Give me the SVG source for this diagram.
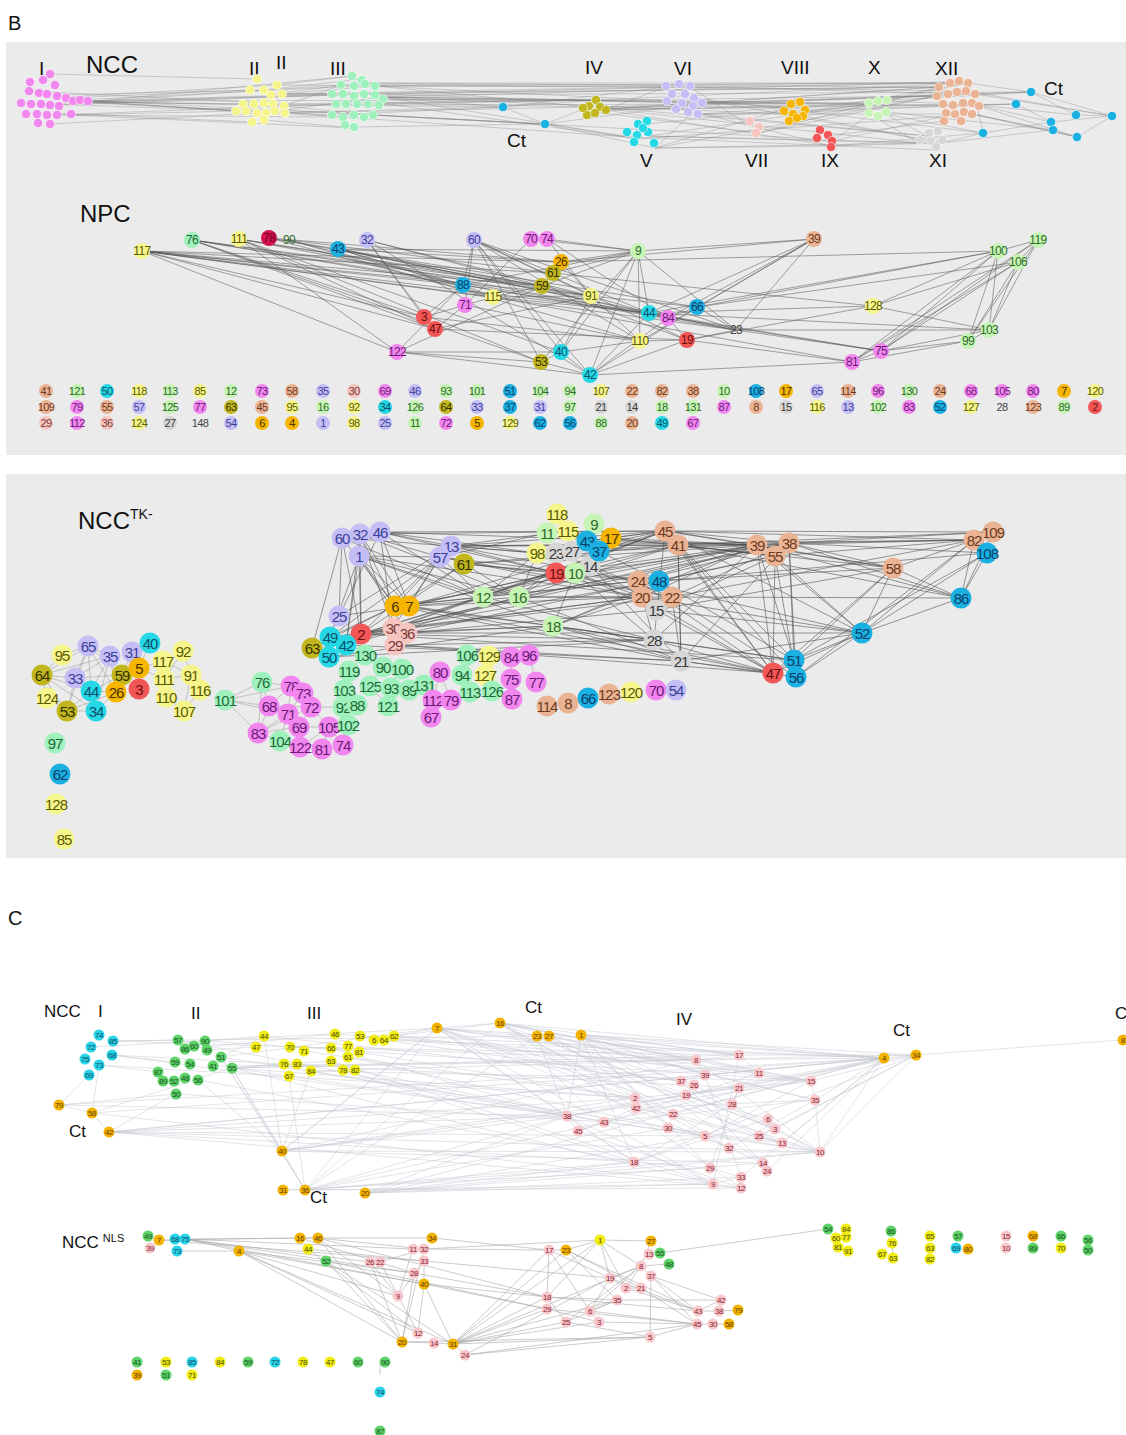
<svg xmlns="http://www.w3.org/2000/svg" width="1126" height="1435" viewBox="0 0 1126 1435">
<style>
text{font-family:"Liberation Sans",Arial,sans-serif}
.lb{fill:#111;text-anchor:start}
.n text{text-anchor:middle;dominant-baseline:central;letter-spacing:-0.6px}
.bg{fill:#ebebeb}
.e1{stroke:#7a7a7a;stroke-width:.6;fill:none;opacity:.55}
.e2{stroke:#555;stroke-width:.7;fill:none;opacity:.75}
.e3{stroke:#4a4a4a;stroke-width:.8;fill:none;opacity:.7}
.e3l{stroke:#777;stroke-width:.6;fill:none;opacity:.6}
.e4{stroke:#c3c7d0;stroke-width:.6;fill:none;opacity:.8}
.e5{stroke:#aaa;stroke-width:.6;fill:none}
.dot circle{r:4.6px;stroke:#fff;stroke-opacity:.55;stroke-width:1}
.s1 circle{r:8px}.s1 text{font-size:12px}
.s2 circle{r:7px}.s2 text{font-size:11px}
.s3 circle{r:10.5px}.s3 text{font-size:15px;letter-spacing:-1px}
.s4 circle{r:5.5px}.s4 text{font-size:8px;letter-spacing:-.5px}
.pk circle{fill:#f286ef}.pk text{fill:#6b1a78}
.lv circle{fill:#c4bef5}.lv text{fill:#3b3f9a}
.yl circle{fill:#f6f58c}.yl text{fill:#5a5a00}
.gd circle{fill:#f5b500}.gd text{fill:#4a3200}
.ol circle{fill:#c2b61e}.ol text{fill:#333300}
.cy circle{fill:#24d8e6}.cy text{fill:#0b4f6b}
.bl circle{fill:#1ab0e2}.bl text{fill:#0b3f6b}
.rd circle{fill:#f25656}.rd text{fill:#6a0f0f}
.tn circle{fill:#e9b394}.tn text{fill:#6e3b22}
.ls circle{fill:#f6c5c0}.ls text{fill:#7a3a3a}
.gn circle{fill:#9ef1bd}.gn text{fill:#1e6a36}
.lg circle{fill:#c6f4b4}.lg text{fill:#2f6a2a}
.gy circle{fill:#d6d6d6}.gy text{fill:#3a3a3a}
.cr circle{fill:#d4124e}.cr text{fill:#6a0020}
.no circle{fill:none}.no text{fill:#444}
.cpk circle{fill:#f7c9cc}.cpk text{fill:#8b2030}
.cgd circle{fill:#f2b400}.cgd text{fill:#6a3c00}
.cyl circle{fill:#f0ec14}.cyl text{fill:#4a4a00}
.cgn circle{fill:#5fd36a}.cgn text{fill:#15501a}
.ccy circle{fill:#2ad4e8}.ccy text{fill:#0a4a6a}
</style>

<rect class="bg" x="6" y="42" width="1120" height="413"/>
<rect class="bg" x="6" y="474" width="1120" height="384"/>

<text class="lb" x="8" y="30" font-size="20">B</text>
<text class="lb" x="8" y="925" font-size="20">C</text>

<g id="connectors">
<path class="e1" d="M50 74L257 79M57 95L264 90M73 102L243 104M86 102L246 111M77 101L284 106M66 97L277 85M55 113L252 122M71 115L236 111M86 102L341 85M73 102L332 115M57 105L364 94M86 102L352 76M77 101L343 117M86 102L375 94M71 115L354 128M284 94L332 94M284 106L341 85M277 85L352 76M282 94L375 86M275 111L343 117M284 110L382 97M264 120L354 128M271 94L364 83M264 90L361 79M284 106L373 115M382 97L596 100M375 86L666 87M379 103L589 107M382 97L503 107M373 115L545 124M364 83L679 85M375 94L690 87M382 97L629 137M379 103L638 139M375 86L791 107M382 97L869 104M364 94L939 87M375 86L950 83M379 103L937 96M382 97L784 114M373 115L818 139M382 97L703 103M277 85L666 87M284 106L596 100M284 94L939 87M86 102L503 107M284 110L545 124M382 97L959 82M364 83L968 83M607 109L666 87M607 109L703 103M607 109L791 107M605 110L869 104M607 109L939 87M600 107L937 96M596 100L968 83M607 109L919 143M600 107L928 136M605 110L832 146M594 112L759 133M607 109L975 94M655 148L703 103M655 148L791 107M648 136L869 104M655 148L937 96M648 136L941 143M655 148L832 146M648 136L757 139M655 148L919 143M647 124L966 91M703 103L869 104M703 114L791 107M699 114L884 114M703 103L939 87M694 87L968 83M703 103L937 96M699 114L928 136M703 103L977 105M694 98L941 143M703 114L832 146M690 87L750 126M699 114L805 112M759 133L869 104M759 133L937 96M757 139L919 143M805 112L869 104M804 116L937 96M805 112L968 83M804 116L941 143M805 112L977 105M832 141L869 115M832 146L941 143M832 141L955 114M828 136L944 121M833 146L983 133M887 101L939 87M887 101L977 105M885 114L946 114M887 101L968 83M885 114L941 143M885 114L983 133M878 119L919 143M977 105L1016 104M975 94L1031 92M977 105L1051 122M972 114L1052 130M977 105L1076 115M972 114L1077 137M968 83L1031 92M941 143L1052 130M941 143L983 133M977 105L983 133M1016 104L1051 122M1031 92L1076 115M1031 92L1112 116M1051 122L1112 116M1052 130L1077 137M1077 137L1112 116M1076 115L1112 116M983 133L1051 122M975 94L1112 116M964 112L1077 137M503 107L545 124M545 124L589 107M545 124L629 137M503 107L596 100M503 107L666 87M545 124L703 103M545 124L655 148M666 87L966 91M679 85L959 82M690 87L975 94M600 107L977 105M629 137L935 150M638 139L972 114M29 91L264 103M41 104L343 94M21 103L246 111M50 124L257 113M88 101L236 111M66 98L250 90M88 101L332 94M80 100L354 86M57 115L336 104M47 115L343 117M88 101L596 100M80 100L545 124M273 104L596 100M285 113L589 107M282 94L666 87M266 113L503 107M383 99L666 101M379 105L791 104M365 84L939 87M375 95L1031 92M343 117L629 137M354 127L545 124M332 115L503 107M375 86L589 107M364 94L682 103M383 99L869 103M606 110L1016 104M702 103L1031 92M694 98L983 133M805 110L1016 104M878 101L1031 92M886 112L1053 130M966 91L1112 116M979 106L1077 137"/>

<path class="e2" d="M142 251L424 317M142 251L435 329M142 251L397 352M142 251L463 285M142 251L493 297M142 251L542 286M142 251L591 296M142 251L561 262M142 251L649 313M142 251L553 273M192 240L424 317M192 240L435 329M192 240L463 285M192 240L542 286M192 240L541 362M192 240L591 296M192 240L649 313M239 239L397 352M239 239L435 329M239 239L542 286M239 239L561 352M239 239L541 362M239 239L591 296M239 239L668 318M269 238L493 297M269 238L542 286M269 238L561 262M269 238L697 307M289 240L463 285M289 240L553 273M289 240L640 341M338 249L463 285M338 249L493 297M338 249L542 286M338 249L561 262M338 249L638 251M338 249L649 313M338 249L736 330M367 240L424 317M367 240L435 329M367 240L542 286M367 240L591 296M367 240L590 375M474 240L463 285M474 240L465 305M474 240L541 362M474 240L561 352M474 240L590 375M474 240L649 313M474 240L640 341M474 240L687 340M474 240L591 296M474 240L736 330M531 239L465 305M531 239L638 251M547 239L591 296M547 239L638 251M547 239L668 318M638 251L542 286M638 251L553 273M638 251L561 262M638 251L640 341M638 251L561 352M638 251L590 375M638 251L649 313M638 251L736 330M638 251L814 239M638 251L541 362M638 251L463 285M814 239L649 313M814 239L697 307M814 239L736 330M814 239L640 341M814 239L561 262M814 239L668 318M998 251L873 306M998 251L649 313M998 251L697 307M998 251L881 351M998 251L852 362M998 251L989 330M998 251L968 341M998 251L561 262M1038 240L998 251M1038 240L1018 262M1038 240L881 351M1038 240L989 330M1038 240L968 341M1038 240L852 362M1018 262L881 351M1018 262L852 362M1018 262L989 330M1018 262L968 341M1018 262L873 306M1018 262L697 307M873 306L649 313M873 306L687 340M873 306L989 330M989 330L968 341M989 330L881 351M989 330L736 330M989 330L649 313M968 341L881 351M968 341L852 362M881 351L852 362M852 362L687 340M852 362L590 375M881 351L736 330M881 351L649 313M852 362L493 297M397 352L561 352M397 352L541 362M397 352L590 375M397 352L463 285M397 352L542 286M424 317L493 297M424 317L463 285M435 329L465 305M435 329L591 296M541 362L561 352M541 362L590 375M561 352L590 375M590 375L649 313M590 375L697 307M590 375L668 318M590 375L687 340M561 352L640 341M463 285L493 297M493 297L542 286M493 297L591 296M493 297L649 313M542 286L591 296M542 286L553 273M553 273L561 262M561 262L591 296M640 341L687 340M687 340L668 318M649 313L668 318M668 318L697 307M697 307L736 330M649 313L736 330M687 340L736 330M591 296L649 313M591 296L640 341M591 296L697 307M591 296L561 352M463 285L736 330M465 305L640 341M542 286L687 340M553 273L873 306M142 251L736 330M435 329L687 340M424 317L640 341M463 285L881 351"/>

<path class="e3" d="M342 538L312 648M342 538L339 616M342 538L395 606M342 538L361 634M342 538L483 597M360 534L395 606M360 534L409 606M360 534L361 634M360 534L346 645M360 534L440 557M360 534L519 597M360 534L393 628M380 532L409 606M380 532L451 546M380 532L556 573M380 532L483 597M380 532L393 628M380 532L339 616M380 532L537 553M380 532L665 531M359 556L330 637M359 556L346 645M359 556L395 606M359 556L409 606M359 556L407 633M359 556L483 597M359 556L519 597M359 556L553 626M359 556L440 557M359 556L642 597M359 556L361 634M451 546L395 606M451 546L339 616M451 546L361 634M451 546L556 573M451 546L537 553M451 546L665 531M451 546L678 545M451 546L638 581M451 546L757 545M440 557L409 606M440 557L330 637M440 557L393 628M440 557L575 573M440 557L483 597M440 557L642 597M440 557L672 597M464 564L395 606M464 564L361 634M464 564L519 597M464 564L556 573M464 564L659 581M464 564L789 543M395 606L483 597M409 606L519 597M395 606L553 626M409 606L556 573M409 606L642 597M395 606L638 581M409 606L665 531M409 606L678 545M395 606L757 545M409 606L654 640M395 606L681 661M409 606L773 673M361 634L483 597M361 634L553 626M361 634L642 597M361 634L672 597M361 634L654 640M361 634L757 545M361 634L789 543M361 634L794 660M361 634L556 573M393 628L519 597M407 633L553 626M393 628L659 581M407 633L656 610M395 645L654 640M395 645L681 661M407 633L775 556M393 628L665 531M395 645L773 673M407 633L862 633M346 645L483 597M330 637L395 606M339 616L409 606M346 645L519 597M329 657L553 626M312 648L395 606M330 637L642 597M346 645L681 661M329 657L654 640M483 597L556 573M483 597L638 581M483 597L665 531M483 597L757 545M483 597L654 640M483 597L575 573M519 597L556 573M519 597L642 597M519 597L678 545M519 597L789 543M519 597L681 661M519 597L672 597M519 597L537 553M553 626L642 597M553 626L659 581M553 626L757 545M553 626L654 640M553 626L681 661M553 626L773 673M553 626L794 660M553 626L575 573M556 573L638 581M556 573L665 531M556 573L757 545M556 573L672 597M575 573L642 597M575 573L678 545M575 573L789 543M575 573L656 610M556 553L665 531M572 551L678 545M587 541L665 531M599 551L659 581M611 538L665 531M590 566L642 597M537 553L451 546M547 533L440 557M568 531L451 546M557 514L547 533M594 524L587 541M557 514L568 531M587 541L757 545M599 551L789 543M611 538L775 556M556 553L672 597M590 566L681 661M575 573L654 640M537 553L483 597M572 551L519 597M665 531L757 545M665 531L789 543M665 531L974 540M665 531L893 568M665 531L773 673M665 531L794 660M665 531L862 633M678 545L775 556M678 545L757 545M678 545L993 532M678 545L796 677M678 545L773 673M678 545L681 661M678 545L961 598M678 545L893 568M638 581L757 545M638 581L789 543M638 581L773 673M638 581L862 633M659 581L775 556M659 581L794 660M659 581L893 568M659 581L987 553M642 597L757 545M642 597L773 673M642 597L862 633M672 597L789 543M672 597L796 677M672 597L961 598M672 597L974 540M656 610L775 556M656 610L773 673M656 610L862 633M656 610L893 568M654 640L757 545M654 640L773 673M654 640L794 660M681 661L789 543M681 661L773 673M681 661L796 677M681 661L862 633M654 640L665 531M681 661L678 545M654 640L642 597M681 661L672 597M757 545L974 540M757 545L893 568M757 545L773 673M757 545L794 660M757 545L862 633M757 545L961 598M789 543L993 532M789 543L893 568M789 543L794 660M789 543L961 598M789 543L796 677M789 543L987 553M775 556L773 673M775 556L796 677M775 556L862 633M775 556L974 540M893 568L974 540M893 568L961 598M893 568L862 633M893 568L794 660M893 568L773 673M974 540L961 598M993 532L961 598M987 553L961 598M974 540L862 633M987 553L862 633M987 553L794 660M974 540L796 677M961 598L862 633M862 633L794 660M862 633L796 677M862 633L773 673M794 660L773 673M380 532L757 545M451 546L974 540M665 531L993 532M789 543L974 540M611 538L757 545M360 534L665 531M342 538L451 546M464 564L678 545"/>

<path class="e3l" d="M42 675L62 655M42 675L88 646M42 675L75 678M42 675L91 691M42 675L67 711M42 675L96 711M42 675L110 656M42 675L47 698M62 655L88 646M88 646L110 656M88 646L75 678M88 646L91 691M88 646L122 675M88 646L116 692M88 646L67 711M110 656L75 678M110 656L91 691M110 656L122 675M110 656L116 692M110 656L96 711M75 678L91 691M75 678L67 711M75 678L122 675M91 691L122 675M91 691L67 711M91 691L96 711M91 691L116 692M122 675L139 668M122 675L116 692M116 692L96 711M132 652L139 668M132 652L122 675M150 643L139 668M139 668L139 689M67 711L96 711M47 698L67 711M67 711L116 692M75 678L96 711M163 661L191 675M183 651L191 675M164 679L191 675M164 679L166 697M191 675L200 690M166 697L184 711M191 675L184 711M200 690L184 711M163 661L166 697M183 651L164 679M139 668L163 661M139 668L164 679M225 700L262 682M225 700L269 706M225 700L258 733M225 700L291 686M225 700L288 714M262 682L291 686M262 682L269 706M262 682L258 733M291 686L303 693M291 686L269 706M291 686L288 714M303 693L311 707M303 693L288 714M269 706L288 714M269 706L258 733M269 706L311 707M311 707L343 707M311 707L329 727M311 707L299 727M288 714L299 727M288 714L258 733M299 727L329 727M329 727L348 725M329 727L322 749M329 727L343 745M258 733L280 741M258 733L299 727M280 741L300 747M300 747L299 727M300 747L329 727M280 741L288 714M311 707L258 733M349 670L364 655M370 686L388 706M391 688L409 690M409 690L424 685M424 685L440 672M400 669L391 688M382 667L370 686M344 690L357 705M349 670L344 690M440 672L433 700M440 672L451 700M467 655L462 675M467 655L470 692M511 657L511 679M529 655L536 682M511 679L512 699M364 655L382 667M312 648L329 657M312 648L346 645"/>

<path class="e4" d="M437 1028L567 1116M437 1028L635 1098M437 1028L696 1060M437 1028L739 1055M437 1028L811 1081M437 1028L713 1184M437 1028L634 1162M437 1028L282 1151M437 1028L500 1023M437 1028L884 1058M437 1028L820 1152M500 1023L696 1060M500 1023L739 1055M500 1023L759 1073M500 1023L811 1081M500 1023L884 1058M500 1023L815 1100M500 1023L705 1136M500 1023L775 1129M500 1023L741 1188M500 1023L604 1122M537 1036L681 1081M549 1036L729 1148M581 1035L884 1058M581 1035L916 1055M581 1035L739 1055M581 1035L820 1152M581 1035L763 1163M581 1035L710 1168M581 1035L634 1162M537 1036L567 1116M549 1036L782 1143M581 1035L811 1081M884 1058L696 1060M884 1058L705 1075M884 1058L739 1088M884 1058L815 1100M884 1058L820 1152M884 1058L782 1143M884 1058L767 1171M884 1058L741 1177M884 1058L673 1114M916 1055L811 1081M916 1055L820 1152M916 1055L775 1129M916 1055L1122 1040M916 1055L759 1136M916 1055L739 1055M282 1151L635 1098M282 1151L567 1116M282 1151L696 1060M282 1151L437 1028M282 1151L264 1036M282 1151L221 1057M305 1190L567 1116M305 1190L634 1162M305 1190L713 1184M305 1190L741 1188M305 1190L604 1122M305 1190L668 1128M305 1190L282 1151M305 1190L232 1068M305 1190L537 1036M365 1193L634 1162M365 1193L713 1184M365 1193L741 1177M365 1193L763 1163M365 1193L820 1152M365 1193L705 1136M283 1190L305 1190M305 1190L500 1023M305 1190L437 1028M109 1132L567 1116M109 1132L635 1098M109 1132L705 1136M59 1105L92 1113M92 1113L109 1132M59 1105L89 1075M92 1113L99 1065M92 1113L232 1068M59 1105L175 1094M109 1132L175 1094M113 1041L178 1040M112 1055L175 1062M113 1041L537 1036M112 1055L567 1116M99 1065L158 1072M232 1068L567 1116M232 1068L635 1098M221 1057L437 1028M213 1066L696 1060M232 1068L739 1055M207 1050L256 1047M221 1057L264 1036M232 1068L284 1064M311 1071L567 1116M311 1071L696 1060M394 1036L437 1028M394 1036L500 1023M359 1052L635 1098M355 1070L604 1122M384 1040L681 1081M331 1061L713 1184M343 1070L634 1162M232 1068L282 1151M198 1080L282 1151M221 1057L305 1190M311 1071L282 1151M289 1076L305 1190M185 1049L335 1034M205 1041L264 1036M232 1068L331 1061M696 1060L739 1055M696 1060L705 1075M705 1075L681 1081M681 1081L694 1085M694 1085L686 1095M739 1055L759 1073M759 1073L739 1088M739 1088L732 1104M811 1081L815 1100M815 1100L820 1152M635 1098L636 1108M636 1108L673 1114M673 1114L668 1128M567 1116L578 1131M578 1131L604 1122M604 1122L636 1108M768 1119L775 1129M775 1129L759 1136M759 1136L782 1143M705 1136L729 1148M729 1148L763 1163M763 1163L767 1171M710 1168L741 1177M741 1177L713 1184M713 1184L741 1188M634 1162L710 1168M567 1116L634 1162M567 1116L713 1184M578 1131L741 1188M604 1122L705 1136M635 1098L811 1081M636 1108L815 1100M673 1114L820 1152M668 1128L782 1143M696 1060L820 1152M739 1055L713 1184M681 1081L763 1163M686 1095L775 1129M732 1104L634 1162M759 1073L578 1131M811 1081L567 1116M815 1100L604 1122M820 1152L567 1116M739 1088L710 1168M705 1075L741 1177M694 1085L820 1152M768 1119L634 1162M782 1143L636 1108M705 1136L811 1081M729 1148L815 1100M109 1132L820 1152M109 1132L741 1188M92 1113L884 1058M232 1068L916 1055M311 1071L811 1081M394 1036L884 1058M109 1132L634 1162M365 1193L567 1116M282 1151L739 1088M437 1028L768 1119M500 1023L636 1108M581 1035L567 1116M581 1035L668 1128M113 1041L696 1060M112 1055L739 1088M99 1065L635 1098M91 1047L437 1028M178 1040L567 1116M205 1041L811 1081M198 1080L634 1162M232 1068L713 1184M221 1057L820 1152M176 1094L604 1122M264 1036L681 1081M290 1047L739 1055M335 1034L696 1060M360 1036L759 1073M394 1036L811 1081M384 1040L884 1058M348 1057L705 1136M331 1048L567 1116M304 1051L635 1098M59 1105L567 1116M92 1113L713 1184M109 1132L884 1058M282 1151L820 1152M283 1190L710 1168M365 1193L884 1058M305 1190L820 1152M282 1151L763 1163M437 1028L729 1148M500 1023L673 1114M581 1035L705 1075M549 1036L815 1100M537 1036L759 1136M916 1055L634 1162M884 1058L604 1122M916 1055L567 1116M884 1058L567 1116M59 1105L884 1058M109 1132L916 1055"/>

<path class="e5" d="M159 1240L300 1238M185 1239L318 1238M185 1239L239 1251M185 1239L370 1262M185 1239L413 1249M185 1239L414 1273M177 1251L239 1251M159 1240L424 1261M185 1239L424 1284M148 1236L159 1240M150 1248L159 1240M239 1251L402 1342M239 1251L453 1344M239 1251L418 1333M239 1251L398 1296M239 1251L414 1273M239 1251L424 1284M300 1238L432 1238M318 1238L398 1296M318 1238L402 1342M308 1249L418 1333M326 1261L402 1342M326 1261L453 1344M318 1238L424 1249M308 1249L424 1261M300 1238L414 1273M318 1238L547 1297M326 1261L547 1309M370 1262L402 1342M380 1262L418 1333M380 1262L424 1249M370 1262L398 1296M413 1249L398 1296M424 1249L402 1342M424 1261L398 1296M414 1273L402 1342M424 1284L418 1333M424 1284L453 1344M424 1261L424 1284M432 1238L549 1250M424 1249L549 1250M424 1284L547 1297M424 1284L547 1309M414 1273L547 1297M424 1261L610 1278M424 1249L600 1240M453 1344L549 1250M453 1344L566 1250M453 1344L600 1240M453 1344L547 1297M453 1344L547 1309M453 1344L566 1322M453 1344L599 1322M453 1344L650 1337M453 1344L617 1300M453 1344L641 1266M402 1342L434 1343M434 1343L453 1344M453 1344L465 1355M465 1355L650 1337M465 1355L697 1324M402 1342L650 1337M465 1355L610 1278M549 1250L566 1250M566 1250L600 1240M600 1240L651 1241M600 1240L610 1278M600 1240L641 1266M600 1240L547 1297M600 1240L626 1288M549 1250L547 1297M549 1250L610 1278M549 1250L590 1311M566 1250L617 1300M566 1250L641 1288M651 1241L641 1266M649 1254L660 1253M641 1266L669 1264M641 1266L610 1278M641 1266L626 1288M641 1266L651 1276M641 1266L590 1311M641 1266L566 1322M651 1276L650 1337M651 1276L698 1311M651 1276L721 1300M651 1276L697 1324M610 1278L626 1288M610 1278L590 1311M626 1288L641 1288M617 1300L590 1311M617 1300L566 1322M590 1311L599 1322M547 1297L566 1322M547 1309L599 1322M547 1297L617 1300M626 1288L698 1311M641 1288L697 1324M617 1300L721 1300M599 1322L697 1324M566 1322L650 1337M650 1337L697 1324M698 1311L721 1300M698 1311L719 1311M697 1324L713 1324M713 1324L729 1324M719 1311L738 1310M547 1297L698 1311M547 1309L697 1324M660 1253L828 1229M610 1278L698 1311M590 1311L697 1324M566 1250L698 1311M892 1243L893 1258M380 1362L380 1375"/>
</g>

<g id="ncc-labels" font-size="19">
<text class="lb" x="86" y="73" font-size="24">NCC</text>
<text class="lb" x="39" y="75">I</text>
<text class="lb" x="249" y="75">II</text>
<text class="lb" x="276" y="69">II</text>
<text class="lb" x="330" y="75">III</text>
<text class="lb" x="585" y="74">IV</text>
<text class="lb" x="674" y="75">VI</text>
<text class="lb" x="781" y="74">VIII</text>
<text class="lb" x="868" y="74">X</text>
<text class="lb" x="935" y="75">XII</text>
<text class="lb" x="1044" y="95">Ct</text>
<text class="lb" x="507" y="147">Ct</text>
<text class="lb" x="640" y="167">V</text>
<text class="lb" x="745" y="167">VII</text>
<text class="lb" x="821" y="167">IX</text>
<text class="lb" x="929" y="167">XI</text>
</g>

<g id="ncc-I" class="dot pk">
<circle cx="50" cy="74"/><circle cx="43" cy="80"/><circle cx="55" cy="85"/><circle cx="29" cy="91"/><circle cx="39" cy="93"/><circle cx="47" cy="94"/><circle cx="57" cy="96"/><circle cx="66" cy="98"/><circle cx="21" cy="103"/><circle cx="31" cy="104"/><circle cx="41" cy="104"/><circle cx="50" cy="105"/><circle cx="59" cy="106"/><circle cx="73" cy="101"/><circle cx="80" cy="100"/><circle cx="88" cy="101"/><circle cx="26" cy="114"/><circle cx="37" cy="114"/><circle cx="47" cy="115"/><circle cx="57" cy="115"/><circle cx="71" cy="114"/><circle cx="38" cy="123"/><circle cx="50" cy="124"/><circle cx="30" cy="82"/>
</g>
<g id="ncc-II" class="dot yl">
<circle cx="257" cy="79"/><circle cx="277" cy="85"/><circle cx="250" cy="90"/><circle cx="264" cy="90"/><circle cx="271" cy="95"/><circle cx="282" cy="94"/><circle cx="243" cy="104"/><circle cx="254" cy="104"/><circle cx="264" cy="103"/><circle cx="273" cy="104"/><circle cx="284" cy="106"/><circle cx="236" cy="111"/><circle cx="246" cy="111"/><circle cx="257" cy="113"/><circle cx="266" cy="113"/><circle cx="275" cy="111"/><circle cx="285" cy="113"/><circle cx="252" cy="122"/><circle cx="264" cy="120"/>
</g>
<g id="ncc-III" class="dot gn">
<circle cx="352" cy="76"/><circle cx="362" cy="80"/><circle cx="341" cy="85"/><circle cx="354" cy="86"/><circle cx="365" cy="84"/><circle cx="375" cy="86"/><circle cx="332" cy="94"/><circle cx="343" cy="94"/><circle cx="354" cy="96"/><circle cx="364" cy="94"/><circle cx="375" cy="95"/><circle cx="383" cy="99"/><circle cx="336" cy="104"/><circle cx="346" cy="104"/><circle cx="357" cy="104"/><circle cx="368" cy="104"/><circle cx="379" cy="105"/><circle cx="332" cy="115"/><circle cx="343" cy="117"/><circle cx="354" cy="115"/><circle cx="364" cy="117"/><circle cx="373" cy="115"/><circle cx="354" cy="127"/><circle cx="345" cy="125"/>
</g>
<g id="ncc-IV" class="dot ol">
<circle cx="596" cy="100"/><circle cx="589" cy="106"/><circle cx="600" cy="107"/><circle cx="606" cy="110"/><circle cx="587" cy="115"/><circle cx="595" cy="113"/><circle cx="583" cy="108"/>
</g>
<g id="ncc-V" class="dot cy">
<circle cx="638" cy="124"/><circle cx="647" cy="121"/><circle cx="627" cy="132"/><circle cx="637" cy="135"/><circle cx="648" cy="132"/><circle cx="634" cy="142"/><circle cx="654" cy="143"/><circle cx="643" cy="128"/>
</g>
<g id="ncc-VI" class="dot lv">
<circle cx="666" cy="86"/><circle cx="679" cy="84"/><circle cx="690" cy="86"/><circle cx="672" cy="94"/><circle cx="685" cy="94"/><circle cx="694" cy="98"/><circle cx="667" cy="101"/><circle cx="682" cy="103"/><circle cx="693" cy="106"/><circle cx="702" cy="103"/><circle cx="688" cy="112"/><circle cx="698" cy="114"/><circle cx="676" cy="109"/>
</g>
<g id="ncc-VII" class="dot ls">
<circle cx="750" cy="121"/><circle cx="759" cy="127"/><circle cx="756" cy="133"/>
</g>
<g id="ncc-VIII" class="dot gd">
<circle cx="791" cy="104"/><circle cx="800" cy="102"/><circle cx="805" cy="110"/><circle cx="784" cy="111"/><circle cx="793" cy="114"/><circle cx="803" cy="116"/><circle cx="789" cy="121"/><circle cx="797" cy="118"/>
</g>
<g id="ncc-IX" class="dot rd">
<circle cx="820" cy="130"/><circle cx="828" cy="135"/><circle cx="817" cy="138"/><circle cx="832" cy="141"/><circle cx="831" cy="147"/>
</g>
<g id="ncc-X" class="dot lg">
<circle cx="869" cy="103"/><circle cx="878" cy="101"/><circle cx="887" cy="100"/><circle cx="869" cy="113"/><circle cx="878" cy="116"/><circle cx="886" cy="112"/>
</g>
<g id="ncc-XI" class="dot gy">
<circle cx="929" cy="133"/><circle cx="938" cy="131"/><circle cx="920" cy="140"/><circle cx="931" cy="141"/><circle cx="942" cy="140"/><circle cx="936" cy="147"/>
</g>
<g id="ncc-XII" class="dot tn">
<circle cx="939" cy="87"/><circle cx="950" cy="83"/><circle cx="959" cy="81"/><circle cx="968" cy="83"/><circle cx="937" cy="96"/><circle cx="948" cy="94"/><circle cx="957" cy="92"/><circle cx="966" cy="91"/><circle cx="975" cy="94"/><circle cx="943" cy="104"/><circle cx="953" cy="105"/><circle cx="963" cy="103"/><circle cx="972" cy="103"/><circle cx="979" cy="106"/><circle cx="946" cy="113"/><circle cx="955" cy="114"/><circle cx="964" cy="112"/><circle cx="972" cy="114"/><circle cx="944" cy="121"/><circle cx="961" cy="121"/>
</g>
<g id="ncc-Ct" class="dot bl">
<circle cx="503" cy="107"/><circle cx="545" cy="124"/><circle cx="983" cy="133"/><circle cx="1016" cy="104"/><circle cx="1031" cy="92"/><circle cx="1051" cy="122"/><circle cx="1053" cy="130"/><circle cx="1076" cy="115"/><circle cx="1077" cy="137"/><circle cx="1112" cy="116"/>
</g>

<text class="lb" x="80" y="222" font-size="24">NPC</text>
<g id="npc-nodes">
<g id="npc-117" class="n s1 yl" transform="translate(142,251)"><circle/><text>117</text></g>
<g id="npc-76" class="n s1 gn" transform="translate(192,240)"><circle/><text>76</text></g>
<g id="npc-111" class="n s1 yl" transform="translate(239,239)"><circle/><text>111</text></g>
<g id="npc-78" class="n s1 cr" transform="translate(269,238)"><circle/><text>78</text></g>
<g id="npc-90" class="n s1 no" transform="translate(289,240)"><circle/><text style="fill:#2f6a2a">90</text></g>
<g id="npc-43" class="n s1 bl" transform="translate(338,249)"><circle/><text>43</text></g>
<g id="npc-32" class="n s1 lv" transform="translate(367,240)"><circle/><text>32</text></g>
<g id="npc-60" class="n s1 lv" transform="translate(474,240)"><circle/><text>60</text></g>
<g id="npc-70" class="n s1 pk" transform="translate(531,239)"><circle/><text>70</text></g>
<g id="npc-74" class="n s1 pk" transform="translate(547,239)"><circle/><text>74</text></g>
<g id="npc-26" class="n s1 gd" transform="translate(561,262)"><circle/><text>26</text></g>
<g id="npc-61" class="n s1 ol" transform="translate(553,273)"><circle/><text>61</text></g>
<g id="npc-59" class="n s1 ol" transform="translate(542,286)"><circle/><text>59</text></g>
<g id="npc-9" class="n s1 lg" transform="translate(638,251)"><circle/><text>9</text></g>
<g id="npc-39" class="n s1 tn" transform="translate(814,239)"><circle/><text>39</text></g>
<g id="npc-100" class="n s1 lg" transform="translate(998,251)"><circle/><text>100</text></g>
<g id="npc-119" class="n s1 lg" transform="translate(1038,240)"><circle/><text>119</text></g>
<g id="npc-106" class="n s1 lg" transform="translate(1018,262)"><circle/><text>106</text></g>
<g id="npc-88" class="n s1 bl" transform="translate(463,285)"><circle/><text>88</text></g>
<g id="npc-115" class="n s1 yl" transform="translate(493,297)"><circle/><text>115</text></g>
<g id="npc-71" class="n s1 pk" transform="translate(465,305)"><circle/><text>71</text></g>
<g id="npc-91" class="n s1 yl" transform="translate(591,296)"><circle/><text>91</text></g>
<g id="npc-3" class="n s1 rd" transform="translate(424,317)"><circle/><text>3</text></g>
<g id="npc-47" class="n s1 rd" transform="translate(435,329)"><circle/><text>47</text></g>
<g id="npc-44" class="n s1 cy" transform="translate(649,313)"><circle/><text>44</text></g>
<g id="npc-84" class="n s1 pk" transform="translate(668,318)"><circle/><text>84</text></g>
<g id="npc-66" class="n s1 bl" transform="translate(697,307)"><circle/><text>66</text></g>
<g id="npc-23" class="n s1 no" transform="translate(736,330)"><circle/><text>23</text></g>
<g id="npc-128" class="n s1 yl" transform="translate(873,306)"><circle/><text>128</text></g>
<g id="npc-103" class="n s1 lg" transform="translate(989,330)"><circle/><text>103</text></g>
<g id="npc-99" class="n s1 lg" transform="translate(968,341)"><circle/><text>99</text></g>
<g id="npc-110" class="n s1 yl" transform="translate(640,341)"><circle/><text>110</text></g>
<g id="npc-19" class="n s1 rd" transform="translate(687,340)"><circle/><text>19</text></g>
<g id="npc-122" class="n s1 pk" transform="translate(397,352)"><circle/><text>122</text></g>
<g id="npc-53" class="n s1 ol" transform="translate(541,362)"><circle/><text>53</text></g>
<g id="npc-40" class="n s1 cy" transform="translate(561,352)"><circle/><text>40</text></g>
<g id="npc-42" class="n s1 cy" transform="translate(590,375)"><circle/><text>42</text></g>
<g id="npc-75" class="n s1 pk" transform="translate(881,351)"><circle/><text>75</text></g>
<g id="npc-81" class="n s1 pk" transform="translate(852,362)"><circle/><text>81</text></g>
</g>

<g id="npc-isolated">
<g class="n s2 tn" transform="translate(46,391)"><circle/><text>41</text></g>
<g class="n s2 lg" transform="translate(77,391)"><circle/><text>121</text></g>
<g class="n s2 cy" transform="translate(107,391)"><circle/><text>50</text></g>
<g class="n s2 yl" transform="translate(139,391)"><circle/><text>118</text></g>
<g class="n s2 lg" transform="translate(170,391)"><circle/><text>113</text></g>
<g class="n s2 yl" transform="translate(200,391)"><circle/><text>85</text></g>
<g class="n s2 lg" transform="translate(231,391)"><circle/><text>12</text></g>
<g class="n s2 pk" transform="translate(262,391)"><circle/><text>73</text></g>
<g class="n s2 tn" transform="translate(292,391)"><circle/><text>58</text></g>
<g class="n s2 lv" transform="translate(323,391)"><circle/><text>35</text></g>
<g class="n s2 ls" transform="translate(354,391)"><circle/><text>30</text></g>
<g class="n s2 pk" transform="translate(385,391)"><circle/><text>69</text></g>
<g class="n s2 lv" transform="translate(415,391)"><circle/><text>46</text></g>
<g class="n s2 lg" transform="translate(446,391)"><circle/><text>93</text></g>
<g class="n s2 lg" transform="translate(477,391)"><circle/><text>101</text></g>
<g class="n s2 bl" transform="translate(510,391)"><circle/><text>51</text></g>
<g class="n s2 lg" transform="translate(540,391)"><circle/><text>104</text></g>
<g class="n s2 lg" transform="translate(570,391)"><circle/><text>94</text></g>
<g class="n s2 yl" transform="translate(601,391)"><circle/><text>107</text></g>
<g class="n s2 tn" transform="translate(632,391)"><circle/><text>22</text></g>
<g class="n s2 tn" transform="translate(662,391)"><circle/><text>82</text></g>
<g class="n s2 tn" transform="translate(693,391)"><circle/><text>38</text></g>
<g class="n s2 lg" transform="translate(724,391)"><circle/><text>10</text></g>
<g class="n s2 bl" transform="translate(756,391)"><circle/><text>108</text></g>
<g class="n s2 gd" transform="translate(786,391)"><circle/><text>17</text></g>
<g class="n s2 lv" transform="translate(817,391)"><circle/><text>65</text></g>
<g class="n s2 tn" transform="translate(848,391)"><circle/><text>114</text></g>
<g class="n s2 pk" transform="translate(878,391)"><circle/><text>96</text></g>
<g class="n s2 lg" transform="translate(909,391)"><circle/><text>130</text></g>
<g class="n s2 tn" transform="translate(940,391)"><circle/><text>24</text></g>
<g class="n s2 pk" transform="translate(971,391)"><circle/><text>68</text></g>
<g class="n s2 pk" transform="translate(1002,391)"><circle/><text>105</text></g>
<g class="n s2 pk" transform="translate(1033,391)"><circle/><text>80</text></g>
<g class="n s2 gd" transform="translate(1064,391)"><circle/><text>7</text></g>
<g class="n s2 yl" transform="translate(1095,391)"><circle/><text>120</text></g>

<g class="n s2 tn" transform="translate(46,407)"><circle/><text>109</text></g>
<g class="n s2 pk" transform="translate(77,407)"><circle/><text>79</text></g>
<g class="n s2 tn" transform="translate(107,407)"><circle/><text>55</text></g>
<g class="n s2 lv" transform="translate(139,407)"><circle/><text>57</text></g>
<g class="n s2 lg" transform="translate(170,407)"><circle/><text>125</text></g>
<g class="n s2 pk" transform="translate(200,407)"><circle/><text>77</text></g>
<g class="n s2 ol" transform="translate(231,407)"><circle/><text>63</text></g>
<g class="n s2 tn" transform="translate(262,407)"><circle/><text>45</text></g>
<g class="n s2 yl" transform="translate(292,407)"><circle/><text>95</text></g>
<g class="n s2 lg" transform="translate(323,407)"><circle/><text>16</text></g>
<g class="n s2 yl" transform="translate(354,407)"><circle/><text>92</text></g>
<g class="n s2 cy" transform="translate(385,407)"><circle/><text>34</text></g>
<g class="n s2 lg" transform="translate(415,407)"><circle/><text>126</text></g>
<g class="n s2 ol" transform="translate(446,407)"><circle/><text>64</text></g>
<g class="n s2 lv" transform="translate(477,407)"><circle/><text>33</text></g>
<g class="n s2 bl" transform="translate(510,407)"><circle/><text>37</text></g>
<g class="n s2 lv" transform="translate(540,407)"><circle/><text>31</text></g>
<g class="n s2 lg" transform="translate(570,407)"><circle/><text>97</text></g>
<g class="n s2 gy" transform="translate(601,407)"><circle/><text>21</text></g>
<g class="n s2 gy" transform="translate(632,407)"><circle/><text>14</text></g>
<g class="n s2 lg" transform="translate(662,407)"><circle/><text>18</text></g>
<g class="n s2 lg" transform="translate(693,407)"><circle/><text>131</text></g>
<g class="n s2 pk" transform="translate(724,407)"><circle/><text>87</text></g>
<g class="n s2 tn" transform="translate(756,407)"><circle/><text>8</text></g>
<g class="n s2 gy" transform="translate(786,407)"><circle/><text>15</text></g>
<g class="n s2 yl" transform="translate(817,407)"><circle/><text>116</text></g>
<g class="n s2 lv" transform="translate(848,407)"><circle/><text>13</text></g>
<g class="n s2 lg" transform="translate(878,407)"><circle/><text>102</text></g>
<g class="n s2 pk" transform="translate(909,407)"><circle/><text>83</text></g>
<g class="n s2 bl" transform="translate(940,407)"><circle/><text>52</text></g>
<g class="n s2 yl" transform="translate(971,407)"><circle/><text>127</text></g>
<g class="n s2 no" transform="translate(1002,407)"><circle/><text>28</text></g>
<g class="n s2 tn" transform="translate(1033,407)"><circle/><text>123</text></g>
<g class="n s2 lg" transform="translate(1064,407)"><circle/><text>89</text></g>
<g class="n s2 rd" transform="translate(1095,407)"><circle/><text>2</text></g>

<g class="n s2 ls" transform="translate(46,423)"><circle/><text>29</text></g>
<g class="n s2 pk" transform="translate(77,423)"><circle/><text>112</text></g>
<g class="n s2 ls" transform="translate(107,423)"><circle/><text>36</text></g>
<g class="n s2 yl" transform="translate(139,423)"><circle/><text>124</text></g>
<g class="n s2 gy" transform="translate(170,423)"><circle/><text>27</text></g>
<g class="n s2 no" transform="translate(200,423)"><circle/><text>148</text></g>
<g class="n s2 lv" transform="translate(231,423)"><circle/><text>54</text></g>
<g class="n s2 gd" transform="translate(262,423)"><circle/><text>6</text></g>
<g class="n s2 gd" transform="translate(292,423)"><circle/><text>4</text></g>
<g class="n s2 lv" transform="translate(323,423)"><circle/><text>1</text></g>
<g class="n s2 yl" transform="translate(354,423)"><circle/><text>98</text></g>
<g class="n s2 lv" transform="translate(385,423)"><circle/><text>25</text></g>
<g class="n s2 lg" transform="translate(415,423)"><circle/><text>11</text></g>
<g class="n s2 pk" transform="translate(446,423)"><circle/><text>72</text></g>
<g class="n s2 gd" transform="translate(477,423)"><circle/><text>5</text></g>
<g class="n s2 yl" transform="translate(510,423)"><circle/><text>129</text></g>
<g class="n s2 bl" transform="translate(540,423)"><circle/><text>62</text></g>
<g class="n s2 bl" transform="translate(570,423)"><circle/><text>56</text></g>
<g class="n s2 lg" transform="translate(601,423)"><circle/><text>88</text></g>
<g class="n s2 tn" transform="translate(632,423)"><circle/><text>20</text></g>
<g class="n s2 cy" transform="translate(662,423)"><circle/><text>49</text></g>
<g class="n s2 pk" transform="translate(693,423)"><circle/><text>67</text></g>
</g>

<text class="lb" x="78" y="529" font-size="24">NCC<tspan font-size="14" dy="-10">TK-</tspan></text>
<g id="tk-nodes">
<g id="tk-60" class="n s3 lv" transform="translate(342,538)"><circle/><text>60</text></g>
<g id="tk-32" class="n s3 lv" transform="translate(360,534)"><circle/><text>32</text></g>
<g id="tk-46" class="n s3 lv" transform="translate(380,532)"><circle/><text>46</text></g>
<g id="tk-1" class="n s3 lv" transform="translate(359,556)"><circle/><text>1</text></g>
<g id="tk-13" class="n s3 lv" transform="translate(451,546)"><circle/><text>13</text></g>
<g id="tk-57" class="n s3 lv" transform="translate(440,557)"><circle/><text>57</text></g>
<g id="tk-61" class="n s3 ol" transform="translate(464,564)"><circle/><text>61</text></g>
<g id="tk-118" class="n s3 yl" transform="translate(557,514)"><circle/><text>118</text></g>
<g id="tk-11" class="n s3 lg" transform="translate(547,533)"><circle/><text>11</text></g>
<g id="tk-115" class="n s3 yl" transform="translate(568,531)"><circle/><text>115</text></g>
<g id="tk-9" class="n s3 lg" transform="translate(594,524)"><circle/><text>9</text></g>
<g id="tk-17" class="n s3 gd" transform="translate(611,538)"><circle/><text>17</text></g>
<g id="tk-98" class="n s3 yl" transform="translate(537,553)"><circle/><text>98</text></g>
<g id="tk-23" class="n s3 gy" transform="translate(556,553)"><circle/><text>23</text></g>
<g id="tk-27" class="n s3 gy" transform="translate(572,551)"><circle/><text>27</text></g>
<g id="tk-14" class="n s3 gy" transform="translate(590,566)"><circle/><text>14</text></g>
<g id="tk-43" class="n s3 bl" transform="translate(587,541)"><circle/><text>43</text></g>
<g id="tk-37" class="n s3 bl" transform="translate(599,551)"><circle/><text>37</text></g>
<g id="tk-19" class="n s3 rd" transform="translate(556,573)"><circle/><text>19</text></g>
<g id="tk-10" class="n s3 lg" transform="translate(575,573)"><circle/><text>10</text></g>
<g id="tk-45" class="n s3 tn" transform="translate(665,531)"><circle/><text>45</text></g>
<g id="tk-41" class="n s3 tn" transform="translate(678,545)"><circle/><text>41</text></g>
<g id="tk-39" class="n s3 tn" transform="translate(757,545)"><circle/><text>39</text></g>
<g id="tk-38" class="n s3 tn" transform="translate(789,543)"><circle/><text>38</text></g>
<g id="tk-55" class="n s3 tn" transform="translate(775,556)"><circle/><text>55</text></g>
<g id="tk-109" class="n s3 tn" transform="translate(993,532)"><circle/><text>109</text></g>
<g id="tk-82" class="n s3 tn" transform="translate(974,540)"><circle/><text>82</text></g>
<g id="tk-108" class="n s3 bl" transform="translate(987,553)"><circle/><text>108</text></g>
<g id="tk-58" class="n s3 tn" transform="translate(893,568)"><circle/><text>58</text></g>
<g id="tk-86" class="n s3 bl" transform="translate(961,598)"><circle/><text>86</text></g>
<g id="tk-24" class="n s3 tn" transform="translate(638,581)"><circle/><text>24</text></g>
<g id="tk-48" class="n s3 bl" transform="translate(659,581)"><circle/><text>48</text></g>
<g id="tk-20" class="n s3 tn" transform="translate(642,597)"><circle/><text>20</text></g>
<g id="tk-22" class="n s3 tn" transform="translate(672,597)"><circle/><text>22</text></g>
<g id="tk-15" class="n s3 gy" transform="translate(656,610)"><circle/><text>15</text></g>
<g id="tk-12" class="n s3 lg" transform="translate(483,597)"><circle/><text>12</text></g>
<g id="tk-16" class="n s3 lg" transform="translate(519,597)"><circle/><text>16</text></g>
<g id="tk-18" class="n s3 lg" transform="translate(553,626)"><circle/><text>18</text></g>
<g id="tk-28" class="n s3 gy" transform="translate(654,640)"><circle/><text>28</text></g>
<g id="tk-21" class="n s3 gy" transform="translate(681,661)"><circle/><text>21</text></g>
<g id="tk-6" class="n s3 gd" transform="translate(395,606)"><circle/><text>6</text></g>
<g id="tk-7" class="n s3 gd" transform="translate(409,606)"><circle/><text>7</text></g>
<g id="tk-25" class="n s3 lv" transform="translate(339,616)"><circle/><text>25</text></g>
<g id="tk-30" class="n s3 ls" transform="translate(393,628)"><circle/><text>30</text></g>
<g id="tk-36" class="n s3 ls" transform="translate(407,633)"><circle/><text>36</text></g>
<g id="tk-29" class="n s3 ls" transform="translate(395,645)"><circle/><text>29</text></g>
<g id="tk-2" class="n s3 rd" transform="translate(361,634)"><circle/><text>2</text></g>
<g id="tk-49" class="n s3 cy" transform="translate(330,637)"><circle/><text>49</text></g>
<g id="tk-63" class="n s3 ol" transform="translate(312,648)"><circle/><text>63</text></g>
<g id="tk-42" class="n s3 cy" transform="translate(346,645)"><circle/><text>42</text></g>
<g id="tk-50" class="n s3 cy" transform="translate(329,657)"><circle/><text>50</text></g>
<g id="tk-52" class="n s3 bl" transform="translate(862,633)"><circle/><text>52</text></g>
<g id="tk-47" class="n s3 rd" transform="translate(773,673)"><circle/><text>47</text></g>
<g id="tk-51" class="n s3 bl" transform="translate(794,660)"><circle/><text>51</text></g>
<g id="tk-56" class="n s3 bl" transform="translate(796,677)"><circle/><text>56</text></g>
<g id="tk-119" class="n s3 gn" transform="translate(349,671)"><circle/><text>119</text></g>
<g id="tk-130" class="n s3 gn" transform="translate(365,655)"><circle/><text>130</text></g>
<g id="tk-90" class="n s3 gn" transform="translate(383,667)"><circle/><text>90</text></g>
<g id="tk-100" class="n s3 gn" transform="translate(402,669)"><circle/><text>100</text></g>
<g id="tk-103" class="n s3 gn" transform="translate(344,690)"><circle/><text>103</text></g>
<g id="tk-125" class="n s3 gn" transform="translate(370,686)"><circle/><text>125</text></g>
<g id="tk-93" class="n s3 gn" transform="translate(391,688)"><circle/><text>93</text></g>
<g id="tk-89" class="n s3 gn" transform="translate(409,690)"><circle/><text>89</text></g>
<g id="tk-131" class="n s3 gn" transform="translate(424,685)"><circle/><text>131</text></g>
<g id="tk-92" class="n s3 gn" transform="translate(343,707)"><circle/><text>92</text></g>
<g id="tk-88" class="n s3 gn" transform="translate(357,705)"><circle/><text>88</text></g>
<g id="tk-121" class="n s3 gn" transform="translate(388,706)"><circle/><text>121</text></g>
<g id="tk-80" class="n s3 pk" transform="translate(440,672)"><circle/><text>80</text></g>
<g id="tk-112" class="n s3 pk" transform="translate(433,700)"><circle/><text>112</text></g>
<g id="tk-79" class="n s3 pk" transform="translate(451,700)"><circle/><text>79</text></g>
<g id="tk-67" class="n s3 pk" transform="translate(431,717)"><circle/><text>67</text></g>
<g id="tk-106" class="n s3 gn" transform="translate(467,655)"><circle/><text>106</text></g>
<g id="tk-129" class="n s3 yl" transform="translate(489,656)"><circle/><text>129</text></g>
<g id="tk-94" class="n s3 gn" transform="translate(462,675)"><circle/><text>94</text></g>
<g id="tk-127" class="n s3 yl" transform="translate(485,675)"><circle/><text>127</text></g>
<g id="tk-113" class="n s3 gn" transform="translate(470,692)"><circle/><text>113</text></g>
<g id="tk-126" class="n s3 gn" transform="translate(492,691)"><circle/><text>126</text></g>
<g id="tk-84" class="n s3 pk" transform="translate(511,657)"><circle/><text>84</text></g>
<g id="tk-96" class="n s3 pk" transform="translate(529,655)"><circle/><text>96</text></g>
<g id="tk-75" class="n s3 pk" transform="translate(511,679)"><circle/><text>75</text></g>
<g id="tk-77" class="n s3 pk" transform="translate(536,682)"><circle/><text>77</text></g>
<g id="tk-87" class="n s3 pk" transform="translate(512,699)"><circle/><text>87</text></g>
<g id="tk-114" class="n s3 tn" transform="translate(547,706)"><circle/><text>114</text></g>
<g id="tk-8" class="n s3 tn" transform="translate(568,703)"><circle/><text>8</text></g>
<g id="tk-66" class="n s3 bl" transform="translate(588,698)"><circle/><text>66</text></g>
<g id="tk-123" class="n s3 tn" transform="translate(609,694)"><circle/><text>123</text></g>
<g id="tk-120" class="n s3 yl" transform="translate(631,692)"><circle/><text>120</text></g>
<g id="tk-70" class="n s3 pk" transform="translate(656,690)"><circle/><text>70</text></g>
<g id="tk-54" class="n s3 lv" transform="translate(676,690)"><circle/><text>54</text></g>
<g id="tk-95" class="n s3 yl" transform="translate(62,655)"><circle/><text>95</text></g>
<g id="tk-65" class="n s3 lv" transform="translate(88,646)"><circle/><text>65</text></g>
<g id="tk-35" class="n s3 lv" transform="translate(110,656)"><circle/><text>35</text></g>
<g id="tk-31" class="n s3 lv" transform="translate(132,652)"><circle/><text>31</text></g>
<g id="tk-40" class="n s3 cy" transform="translate(150,643)"><circle/><text>40</text></g>
<g id="tk-117" class="n s3 yl" transform="translate(163,661)"><circle/><text>117</text></g>
<g id="tk-92b" class="n s3 yl" transform="translate(183,651)"><circle/><text>92</text></g>
<g id="tk-64" class="n s3 ol" transform="translate(42,675)"><circle/><text>64</text></g>
<g id="tk-33" class="n s3 lv" transform="translate(75,678)"><circle/><text>33</text></g>
<g id="tk-59" class="n s3 ol" transform="translate(122,675)"><circle/><text>59</text></g>
<g id="tk-5" class="n s3 gd" transform="translate(139,668)"><circle/><text>5</text></g>
<g id="tk-111" class="n s3 yl" transform="translate(164,679)"><circle/><text>111</text></g>
<g id="tk-91" class="n s3 yl" transform="translate(191,675)"><circle/><text>91</text></g>
<g id="tk-44" class="n s3 cy" transform="translate(91,691)"><circle/><text>44</text></g>
<g id="tk-26" class="n s3 gd" transform="translate(116,692)"><circle/><text>26</text></g>
<g id="tk-3" class="n s3 rd" transform="translate(139,689)"><circle/><text>3</text></g>
<g id="tk-110" class="n s3 yl" transform="translate(166,697)"><circle/><text>110</text></g>
<g id="tk-116" class="n s3 yl" transform="translate(200,690)"><circle/><text>116</text></g>
<g id="tk-124" class="n s3 yl" transform="translate(47,698)"><circle/><text>124</text></g>
<g id="tk-53" class="n s3 ol" transform="translate(67,711)"><circle/><text>53</text></g>
<g id="tk-34" class="n s3 cy" transform="translate(96,711)"><circle/><text>34</text></g>
<g id="tk-107" class="n s3 yl" transform="translate(184,711)"><circle/><text>107</text></g>
<g id="tk-97" class="n s3 gn" transform="translate(55,743)"><circle/><text>97</text></g>
<g id="tk-62" class="n s3 bl" transform="translate(60,774)"><circle/><text>62</text></g>
<g id="tk-128" class="n s3 yl" transform="translate(56,804)"><circle/><text>128</text></g>
<g id="tk-85" class="n s3 yl" transform="translate(64,839)"><circle/><text>85</text></g>
<g id="tk-101" class="n s3 gn" transform="translate(225,700)"><circle/><text>101</text></g>
<g id="tk-76" class="n s3 gn" transform="translate(262,682)"><circle/><text>76</text></g>
<g id="tk-78" class="n s3 pk" transform="translate(291,686)"><circle/><text>78</text></g>
<g id="tk-73" class="n s3 pk" transform="translate(303,693)"><circle/><text>73</text></g>
<g id="tk-68" class="n s3 pk" transform="translate(269,706)"><circle/><text>68</text></g>
<g id="tk-72" class="n s3 pk" transform="translate(311,707)"><circle/><text>72</text></g>
<g id="tk-71" class="n s3 pk" transform="translate(288,714)"><circle/><text>71</text></g>
<g id="tk-69" class="n s3 pk" transform="translate(299,727)"><circle/><text>69</text></g>
<g id="tk-105" class="n s3 pk" transform="translate(329,727)"><circle/><text>105</text></g>
<g id="tk-102" class="n s3 gn" transform="translate(348,725)"><circle/><text>102</text></g>
<g id="tk-83" class="n s3 pk" transform="translate(258,733)"><circle/><text>83</text></g>
<g id="tk-104" class="n s3 gn" transform="translate(280,741)"><circle/><text>104</text></g>
<g id="tk-122" class="n s3 pk" transform="translate(300,747)"><circle/><text>122</text></g>
<g id="tk-81" class="n s3 pk" transform="translate(322,749)"><circle/><text>81</text></g>
<g id="tk-74" class="n s3 pk" transform="translate(343,745)"><circle/><text>74</text></g>
</g>

<g id="c-labels" font-size="17">
<text class="lb" x="44" y="1017">NCC</text>
<text class="lb" x="98" y="1017">I</text>
<text class="lb" x="191" y="1019">II</text>
<text class="lb" x="307" y="1019">III</text>
<text class="lb" x="525" y="1013">Ct</text>
<text class="lb" x="676" y="1025">IV</text>
<text class="lb" x="893" y="1036">Ct</text>
<text class="lb" x="1115" y="1019">C</text>
<text class="lb" x="69" y="1137">Ct</text>
<text class="lb" x="310" y="1203">Ct</text>
</g>
<g id="c-nodes">
<g id="c-74" class="n s4 ccy" transform="translate(99,1035)"><circle/><text>74</text></g>
<g id="c-85" class="n s4 ccy" transform="translate(113,1041)"><circle/><text>85</text></g>
<g id="c-72" class="n s4 ccy" transform="translate(91,1047)"><circle/><text>72</text></g>
<g id="c-68" class="n s4 ccy" transform="translate(112,1055)"><circle/><text>68</text></g>
<g id="c-75" class="n s4 ccy" transform="translate(85,1059)"><circle/><text>75</text></g>
<g id="c-73" class="n s4 ccy" transform="translate(99,1065)"><circle/><text>73</text></g>
<g id="c-69" class="n s4 ccy" transform="translate(89,1075)"><circle/><text>69</text></g>
<g id="c-57" class="n s4 cgn" transform="translate(178,1040)"><circle/><text>57</text></g>
<g id="c-86" class="n s4 cgn" transform="translate(185,1049)"><circle/><text>86</text></g>
<g id="c-60" class="n s4 cgn" transform="translate(194,1046)"><circle/><text>60</text></g>
<g id="c-90" class="n s4 cgn" transform="translate(205,1041)"><circle/><text>90</text></g>
<g id="c-49" class="n s4 cgn" transform="translate(207,1050)"><circle/><text>49</text></g>
<g id="c-59" class="n s4 cgn" transform="translate(175,1062)"><circle/><text>59</text></g>
<g id="c-54" class="n s4 cgn" transform="translate(190,1064)"><circle/><text>54</text></g>
<g id="c-41" class="n s4 cgn" transform="translate(213,1066)"><circle/><text>41</text></g>
<g id="c-51" class="n s4 cgn" transform="translate(221,1057)"><circle/><text>51</text></g>
<g id="c-55" class="n s4 cgn" transform="translate(232,1068)"><circle/><text>55</text></g>
<g id="c-87" class="n s4 cgn" transform="translate(158,1072)"><circle/><text>87</text></g>
<g id="c-89" class="n s4 cgn" transform="translate(163,1081)"><circle/><text>89</text></g>
<g id="c-52" class="n s4 cgn" transform="translate(174,1081)"><circle/><text>52</text></g>
<g id="c-48" class="n s4 cgn" transform="translate(185,1078)"><circle/><text>48</text></g>
<g id="c-56" class="n s4 cgn" transform="translate(198,1080)"><circle/><text>56</text></g>
<g id="c-50" class="n s4 cgn" transform="translate(176,1094)"><circle/><text>50</text></g>
<g id="c-44" class="n s4 cyl" transform="translate(264,1036)"><circle/><text>44</text></g>
<g id="c-47" class="n s4 cyl" transform="translate(256,1047)"><circle/><text>47</text></g>
<g id="c-70" class="n s4 cyl" transform="translate(290,1047)"><circle/><text>70</text></g>
<g id="c-71" class="n s4 cyl" transform="translate(304,1051)"><circle/><text>71</text></g>
<g id="c-76" class="n s4 cyl" transform="translate(284,1064)"><circle/><text>76</text></g>
<g id="c-83" class="n s4 cyl" transform="translate(297,1064)"><circle/><text>83</text></g>
<g id="c-67" class="n s4 cyl" transform="translate(289,1076)"><circle/><text>67</text></g>
<g id="c-84" class="n s4 cyl" transform="translate(311,1071)"><circle/><text>84</text></g>
<g id="c-46" class="n s4 cyl" transform="translate(335,1034)"><circle/><text>46</text></g>
<g id="c-66" class="n s4 cyl" transform="translate(331,1048)"><circle/><text>66</text></g>
<g id="c-63" class="n s4 cyl" transform="translate(331,1061)"><circle/><text>63</text></g>
<g id="c-77" class="n s4 cyl" transform="translate(348,1046)"><circle/><text>77</text></g>
<g id="c-81" class="n s4 cyl" transform="translate(359,1052)"><circle/><text>81</text></g>
<g id="c-61" class="n s4 cyl" transform="translate(348,1057)"><circle/><text>61</text></g>
<g id="c-53" class="n s4 cyl" transform="translate(360,1036)"><circle/><text>53</text></g>
<g id="c-78" class="n s4 cyl" transform="translate(343,1070)"><circle/><text>78</text></g>
<g id="c-82" class="n s4 cyl" transform="translate(355,1070)"><circle/><text>82</text></g>
<g id="c-6" class="n s4 cyl" transform="translate(374,1040)"><circle/><text>6</text></g>
<g id="c-64" class="n s4 cyl" transform="translate(384,1040)"><circle/><text>64</text></g>
<g id="c-62" class="n s4 cyl" transform="translate(394,1036)"><circle/><text>62</text></g>
<g id="c-79" class="n s4 cgd" transform="translate(59,1105)"><circle/><text>79</text></g>
<g id="c-58" class="n s4 cgd" transform="translate(92,1113)"><circle/><text>58</text></g>
<g id="c-42" class="n s4 cgd" transform="translate(109,1132)"><circle/><text>42</text></g>
<g id="c-7" class="n s4 cgd" transform="translate(437,1028)"><circle/><text>7</text></g>
<g id="c-16" class="n s4 cgd" transform="translate(500,1023)"><circle/><text>16</text></g>
<g id="c-23" class="n s4 cgd" transform="translate(537,1036)"><circle/><text>23</text></g>
<g id="c-27" class="n s4 cgd" transform="translate(549,1036)"><circle/><text>27</text></g>
<g id="c-1" class="n s4 cgd" transform="translate(581,1035)"><circle/><text>1</text></g>
<g id="c-4" class="n s4 cgd" transform="translate(884,1058)"><circle/><text>4</text></g>
<g id="c-34" class="n s4 cgd" transform="translate(916,1055)"><circle/><text>34</text></g>
<g id="c-40" class="n s4 cgd" transform="translate(282,1151)"><circle/><text>40</text></g>
<g id="c-31" class="n s4 cgd" transform="translate(283,1190)"><circle/><text>31</text></g>
<g id="c-36" class="n s4 cgd" transform="translate(305,1190)"><circle/><text>36</text></g>
<g id="c-20" class="n s4 cgd" transform="translate(365,1193)"><circle/><text>20</text></g>
<g id="c-8ct" class="n s4 cgd" transform="translate(1123,1040)"><circle/><text>8</text></g>
<g id="c-8" class="n s4 cpk" transform="translate(696,1060)"><circle/><text>8</text></g>
<g id="c-17" class="n s4 cpk" transform="translate(739,1055)"><circle/><text>17</text></g>
<g id="c-39" class="n s4 cpk" transform="translate(705,1075)"><circle/><text>39</text></g>
<g id="c-37" class="n s4 cpk" transform="translate(681,1081)"><circle/><text>37</text></g>
<g id="c-26" class="n s4 cpk" transform="translate(694,1085)"><circle/><text>26</text></g>
<g id="c-19" class="n s4 cpk" transform="translate(686,1095)"><circle/><text>19</text></g>
<g id="c-11" class="n s4 cpk" transform="translate(759,1073)"><circle/><text>11</text></g>
<g id="c-21" class="n s4 cpk" transform="translate(739,1088)"><circle/><text>21</text></g>
<g id="c-15" class="n s4 cpk" transform="translate(811,1081)"><circle/><text>15</text></g>
<g id="c-35" class="n s4 cpk" transform="translate(815,1100)"><circle/><text>35</text></g>
<g id="c-28" class="n s4 cpk" transform="translate(732,1104)"><circle/><text>28</text></g>
<g id="c-2" class="n s4 cpk" transform="translate(635,1098)"><circle/><text>2</text></g>
<g id="c-42b" class="n s4 cpk" transform="translate(636,1108)"><circle/><text>42</text></g>
<g id="c-22" class="n s4 cpk" transform="translate(673,1114)"><circle/><text>22</text></g>
<g id="c-30" class="n s4 cpk" transform="translate(668,1128)"><circle/><text>30</text></g>
<g id="c-38" class="n s4 cpk" transform="translate(567,1116)"><circle/><text>38</text></g>
<g id="c-45" class="n s4 cpk" transform="translate(578,1131)"><circle/><text>45</text></g>
<g id="c-43" class="n s4 cpk" transform="translate(604,1122)"><circle/><text>43</text></g>
<g id="c-6b" class="n s4 cpk" transform="translate(768,1119)"><circle/><text>6</text></g>
<g id="c-3" class="n s4 cpk" transform="translate(775,1129)"><circle/><text>3</text></g>
<g id="c-25" class="n s4 cpk" transform="translate(759,1136)"><circle/><text>25</text></g>
<g id="c-13" class="n s4 cpk" transform="translate(782,1143)"><circle/><text>13</text></g>
<g id="c-5" class="n s4 cpk" transform="translate(705,1136)"><circle/><text>5</text></g>
<g id="c-32" class="n s4 cpk" transform="translate(729,1148)"><circle/><text>32</text></g>
<g id="c-10" class="n s4 cpk" transform="translate(820,1152)"><circle/><text>10</text></g>
<g id="c-18" class="n s4 cpk" transform="translate(634,1162)"><circle/><text>18</text></g>
<g id="c-14" class="n s4 cpk" transform="translate(763,1163)"><circle/><text>14</text></g>
<g id="c-24" class="n s4 cpk" transform="translate(767,1171)"><circle/><text>24</text></g>
<g id="c-29" class="n s4 cpk" transform="translate(710,1168)"><circle/><text>29</text></g>
<g id="c-33" class="n s4 cpk" transform="translate(741,1177)"><circle/><text>33</text></g>
<g id="c-9" class="n s4 cpk" transform="translate(713,1184)"><circle/><text>9</text></g>
<g id="c-12" class="n s4 cpk" transform="translate(741,1188)"><circle/><text>12</text></g>
</g>

<text class="lb" x="62" y="1248" font-size="17">NCC<tspan font-size="11" dx="4" dy="-6">NLS</tspan></text>
<g id="nls-nodes">
<g class="n s4 cgn" transform="translate(148,1236)"><circle/><text>49</text></g>
<g class="n s4 cpk" transform="translate(150,1248)"><circle/><text>39</text></g>
<g class="n s4 cgd" transform="translate(159,1240)"><circle/><text>7</text></g>
<g class="n s4 ccy" transform="translate(175,1239)"><circle/><text>68</text></g>
<g class="n s4 ccy" transform="translate(185,1239)"><circle/><text>75</text></g>
<g class="n s4 ccy" transform="translate(177,1251)"><circle/><text>73</text></g>
<g class="n s4 cgd" transform="translate(239,1251)"><circle/><text>4</text></g>
<g class="n s4 cgd" transform="translate(300,1238)"><circle/><text>16</text></g>
<g class="n s4 cgd" transform="translate(318,1238)"><circle/><text>46</text></g>
<g class="n s4 cyl" transform="translate(308,1249)"><circle/><text>44</text></g>
<g class="n s4 cgn" transform="translate(326,1261)"><circle/><text>52</text></g>
<g class="n s4 cpk" transform="translate(370,1262)"><circle/><text>26</text></g>
<g class="n s4 cpk" transform="translate(380,1262)"><circle/><text>22</text></g>
<g class="n s4 cpk" transform="translate(413,1249)"><circle/><text>11</text></g>
<g class="n s4 cpk" transform="translate(424,1249)"><circle/><text>32</text></g>
<g class="n s4 cgd" transform="translate(432,1238)"><circle/><text>34</text></g>
<g class="n s4 cpk" transform="translate(424,1261)"><circle/><text>33</text></g>
<g class="n s4 cpk" transform="translate(414,1273)"><circle/><text>28</text></g>
<g class="n s4 cgd" transform="translate(424,1284)"><circle/><text>40</text></g>
<g class="n s4 cpk" transform="translate(398,1296)"><circle/><text>9</text></g>
<g class="n s4 cpk" transform="translate(418,1333)"><circle/><text>12</text></g>
<g class="n s4 cgd" transform="translate(402,1342)"><circle/><text>20</text></g>
<g class="n s4 cpk" transform="translate(434,1343)"><circle/><text>14</text></g>
<g class="n s4 cgd" transform="translate(453,1344)"><circle/><text>31</text></g>
<g class="n s4 cpk" transform="translate(465,1355)"><circle/><text>24</text></g>
<g class="n s4 cpk" transform="translate(549,1250)"><circle/><text>17</text></g>
<g class="n s4 cgd" transform="translate(566,1250)"><circle/><text>23</text></g>
<g class="n s4 cyl" transform="translate(600,1240)"><circle/><text>1</text></g>
<g class="n s4 cgd" transform="translate(651,1241)"><circle/><text>27</text></g>
<g class="n s4 cpk" transform="translate(649,1254)"><circle/><text>13</text></g>
<g class="n s4 cgn" transform="translate(660,1253)"><circle/><text>55</text></g>
<g class="n s4 cgn" transform="translate(669,1264)"><circle/><text>48</text></g>
<g class="n s4 cpk" transform="translate(641,1266)"><circle/><text>8</text></g>
<g class="n s4 cpk" transform="translate(610,1278)"><circle/><text>19</text></g>
<g class="n s4 cpk" transform="translate(651,1276)"><circle/><text>37</text></g>
<g class="n s4 cpk" transform="translate(626,1288)"><circle/><text>2</text></g>
<g class="n s4 cpk" transform="translate(641,1288)"><circle/><text>21</text></g>
<g class="n s4 cpk" transform="translate(617,1300)"><circle/><text>35</text></g>
<g class="n s4 cpk" transform="translate(547,1297)"><circle/><text>18</text></g>
<g class="n s4 cpk" transform="translate(547,1309)"><circle/><text>29</text></g>
<g class="n s4 cpk" transform="translate(590,1311)"><circle/><text>6</text></g>
<g class="n s4 cpk" transform="translate(566,1322)"><circle/><text>25</text></g>
<g class="n s4 cpk" transform="translate(599,1322)"><circle/><text>3</text></g>
<g class="n s4 cpk" transform="translate(650,1337)"><circle/><text>5</text></g>
<g class="n s4 cpk" transform="translate(721,1300)"><circle/><text>42</text></g>
<g class="n s4 cpk" transform="translate(698,1311)"><circle/><text>43</text></g>
<g class="n s4 cpk" transform="translate(719,1311)"><circle/><text>38</text></g>
<g class="n s4 cgd" transform="translate(738,1310)"><circle/><text>79</text></g>
<g class="n s4 cpk" transform="translate(697,1324)"><circle/><text>45</text></g>
<g class="n s4 cpk" transform="translate(713,1324)"><circle/><text>30</text></g>
<g class="n s4 cgd" transform="translate(729,1324)"><circle/><text>58</text></g>
<g class="n s4 cgn" transform="translate(828,1229)"><circle/><text>54</text></g>
<g class="n s4 cyl" transform="translate(846,1229)"><circle/><text>84</text></g>
<g class="n s4 cyl" transform="translate(836,1238)"><circle/><text>60</text></g>
<g class="n s4 cyl" transform="translate(846,1237)"><circle/><text>77</text></g>
<g class="n s4 cyl" transform="translate(838,1247)"><circle/><text>81</text></g>
<g class="n s4 cyl" transform="translate(848,1251)"><circle/><text>91</text></g>
<g class="n s4 cgn" transform="translate(891,1231)"><circle/><text>86</text></g>
<g class="n s4 cyl" transform="translate(892,1243)"><circle/><text>76</text></g>
<g class="n s4 cyl" transform="translate(882,1254)"><circle/><text>67</text></g>
<g class="n s4 cyl" transform="translate(893,1258)"><circle/><text>63</text></g>
<g class="n s4 cyl" transform="translate(930,1236)"><circle/><text>65</text></g>
<g class="n s4 cyl" transform="translate(930,1248)"><circle/><text>63</text></g>
<g class="n s4 cyl" transform="translate(930,1259)"><circle/><text>82</text></g>
<g class="n s4 cgn" transform="translate(958,1236)"><circle/><text>57</text></g>
<g class="n s4 ccy" transform="translate(956,1248)"><circle/><text>69</text></g>
<g class="n s4 cgd" transform="translate(968,1249)"><circle/><text>80</text></g>
<g class="n s4 cpk" transform="translate(1006,1236)"><circle/><text>15</text></g>
<g class="n s4 cpk" transform="translate(1006,1248)"><circle/><text>10</text></g>
<g class="n s4 cgd" transform="translate(1033,1236)"><circle/><text>68</text></g>
<g class="n s4 cgn" transform="translate(1033,1248)"><circle/><text>89</text></g>
<g class="n s4 cgn" transform="translate(1061,1236)"><circle/><text>66</text></g>
<g class="n s4 cyl" transform="translate(1061,1248)"><circle/><text>70</text></g>
<g class="n s4 cgn" transform="translate(1088,1240)"><circle/><text>56</text></g>
<g class="n s4 cgn" transform="translate(1088,1250)"><circle/><text>50</text></g>
<g class="n s4 cgn" transform="translate(137,1362)"><circle/><text>41</text></g>
<g class="n s4 cyl" transform="translate(166,1362)"><circle/><text>53</text></g>
<g class="n s4 ccy" transform="translate(192,1362)"><circle/><text>85</text></g>
<g class="n s4 cyl" transform="translate(220,1362)"><circle/><text>84</text></g>
<g class="n s4 cgn" transform="translate(248,1362)"><circle/><text>59</text></g>
<g class="n s4 ccy" transform="translate(275,1362)"><circle/><text>72</text></g>
<g class="n s4 cyl" transform="translate(303,1362)"><circle/><text>78</text></g>
<g class="n s4 cyl" transform="translate(330,1362)"><circle/><text>47</text></g>
<g class="n s4 cgn" transform="translate(358,1362)"><circle/><text>60</text></g>
<g class="n s4 cgn" transform="translate(385,1362)"><circle/><text>90</text></g>
<g class="n s4 cgd" transform="translate(137,1375)"><circle/><text>39</text></g>
<g class="n s4 cgn" transform="translate(166,1375)"><circle/><text>51</text></g>
<g class="n s4 cyl" transform="translate(192,1375)"><circle/><text>71</text></g>
<g class="n s4 ccy" transform="translate(380,1392)"><circle/><text>74</text></g>
<g class="n s4 cgn" transform="translate(380,1431)"><circle/><text>87</text></g>
</g>
</svg>
